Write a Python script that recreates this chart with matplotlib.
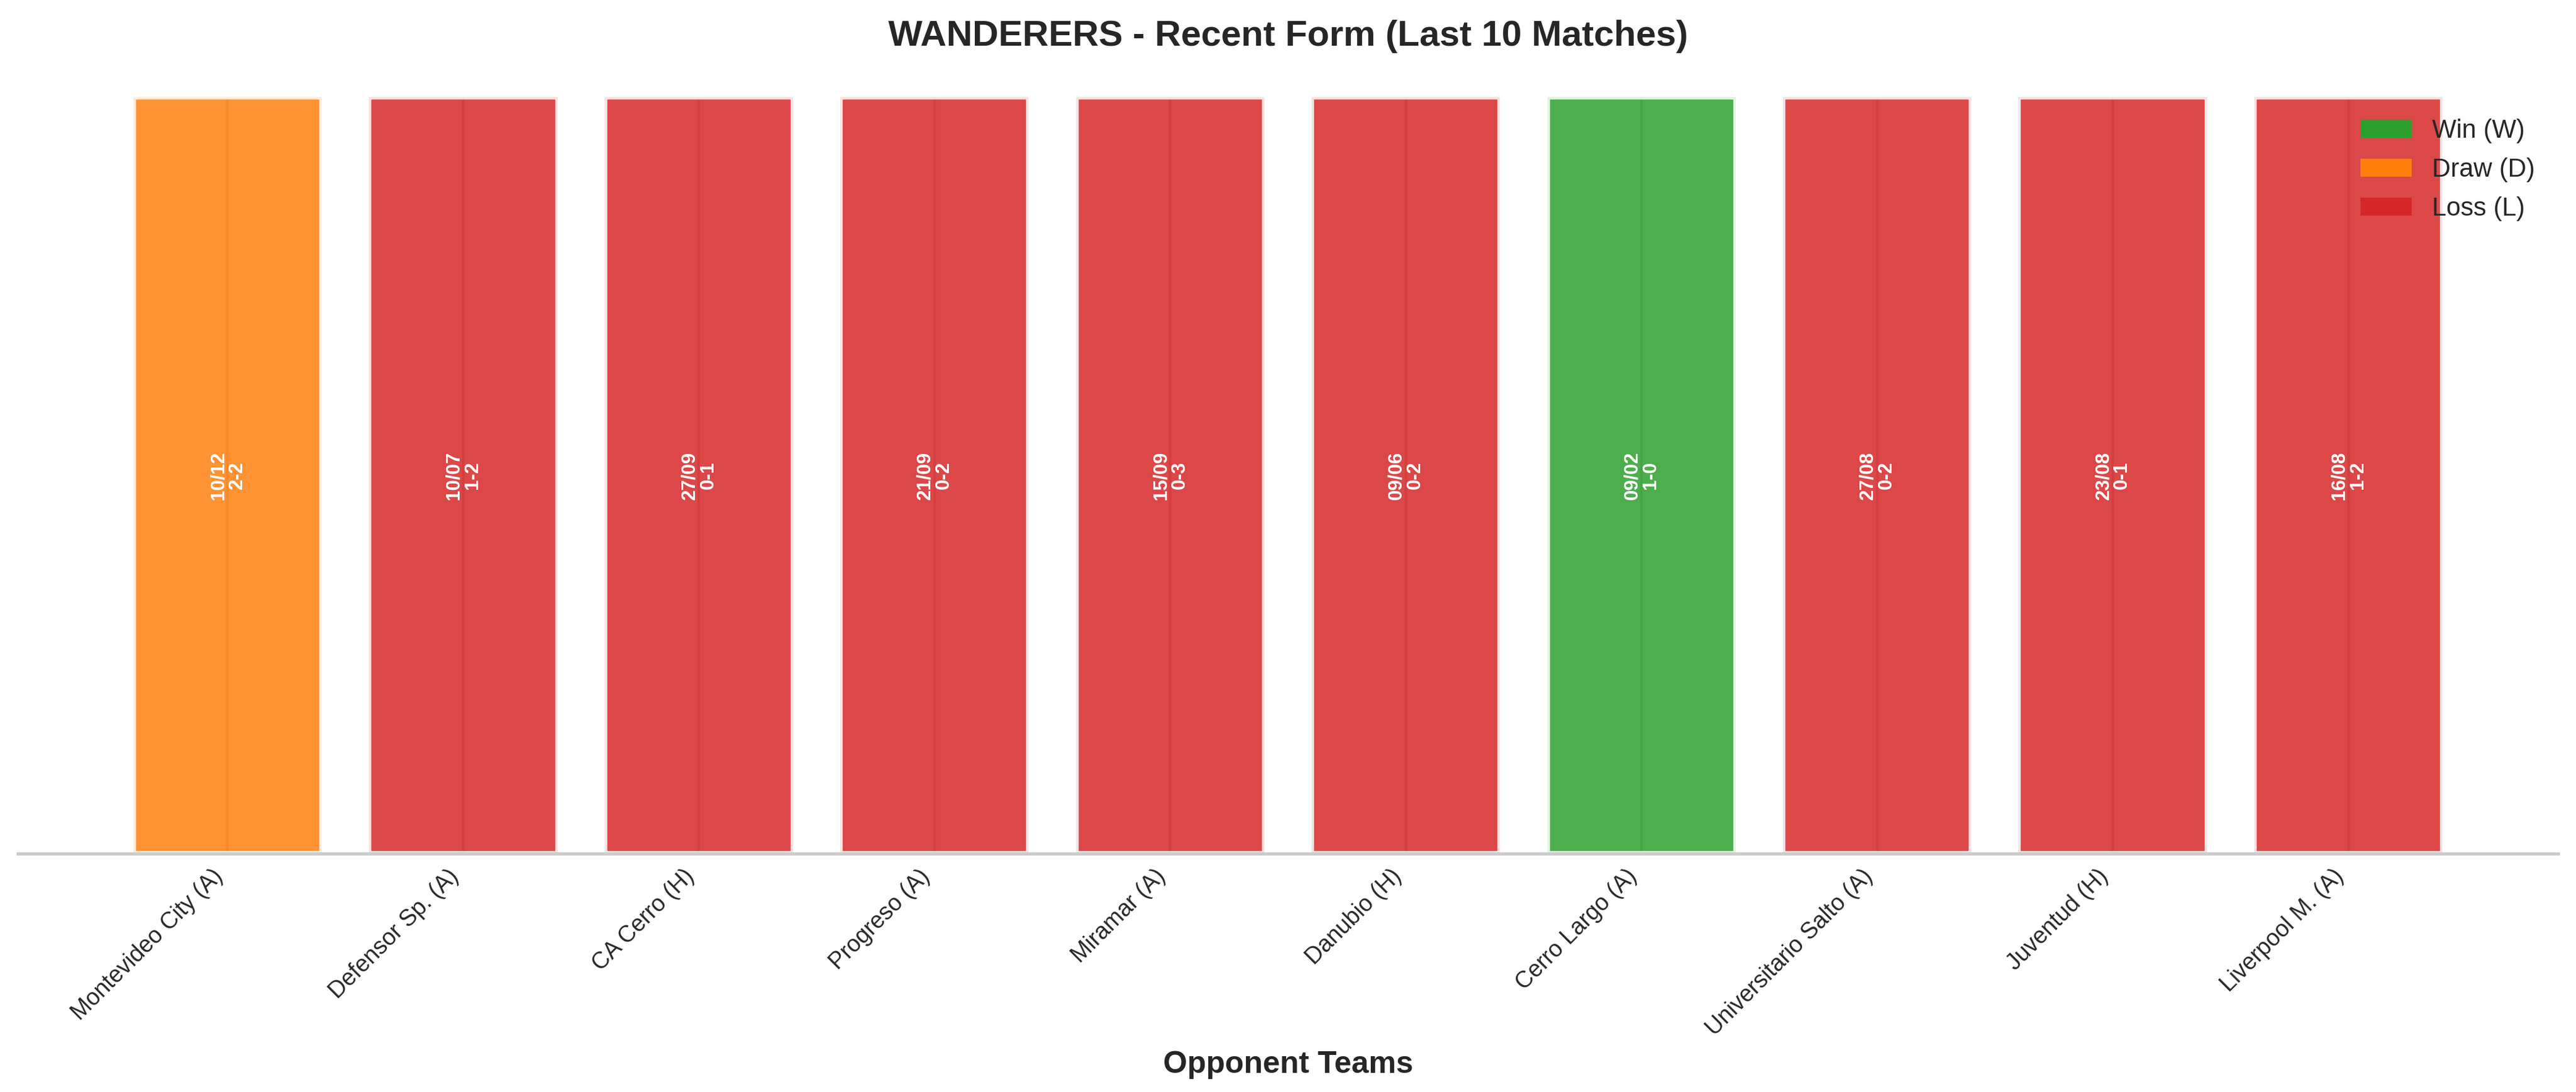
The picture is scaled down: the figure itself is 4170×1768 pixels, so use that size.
import matplotlib
matplotlib.use("Agg")
import matplotlib.pyplot as plt
import seaborn as sns
from matplotlib.patches import Patch

opponents = ["Montevideo City (A)", "Defensor Sp. (A)", "CA Cerro (H)", "Progreso (A)",
             "Miramar (A)", "Danubio (H)", "Cerro Largo (A)", "Universitario Salto (A)",
             "Juventud (H)", "Liverpool M. (A)"]
results = ["D", "L", "L", "L", "L", "L", "W", "L", "L", "L"]
dates = ["10/12", "10/07", "27/09", "21/09", "15/09", "09/06", "09/02", "27/08", "23/08", "16/08"]
scores = ["2-2", "1-2", "0-1", "0-2", "0-3", "0-2", "1-0", "0-2", "0-1", "1-2"]
heights = [1] * len(opponents)

result_colors = {"W": "#2ca02c", "D": "#ff7f0e", "L": "#d62728"}
legend_labels = [("W", "Win (W)"), ("D", "Draw (D)"), ("L", "Loss (L)")]

sns.set_theme(style="whitegrid")
plt.rcParams["font.family"] = ["Liberation Sans", "DejaVu Sans"]

fig = plt.figure(figsize=(13.9, 1768 / 300), dpi=300)
ax = fig.add_axes([29 / 4170, 1 - 1382 / 1768, (4141 - 29) / 4170, (1382 - 157) / 1768])

x = list(range(len(opponents)))
colors = [result_colors[r] for r in results]
ax.bar(x, heights, width=0.8, color=colors, alpha=0.85, edgecolor="white", linewidth=2)
ax.set_ylim(0, 1)

for xi, d, s in zip(x, dates, scores):
    ax.text(xi, 0.5, f"{d}\n{s}", ha="center", va="center", rotation=90,
            color="white", fontsize=7.5, fontweight="bold", linespacing=1.0)

ax.set_xticks(x)
ax.set_xticklabels(opponents, rotation=45, ha="right", fontsize=9)
ax.tick_params(axis="x", length=0, pad=4.5)
ax.set_yticks([])
ax.set_xlabel("Opponent Teams", fontsize=12, fontweight="bold", labelpad=4)
ax.set_title("WANDERERS - Recent Form (Last 10 Matches)", fontsize=14, fontweight="bold", pad=20)

for side in ["left", "right", "top"]:
    ax.spines[side].set_visible(False)
ax.spines["bottom"].set_color("#cccccc")

handles = [Patch(facecolor=result_colors[k], edgecolor="none", label=lab) for k, lab in legend_labels]
ax.legend(handles=handles, loc="upper right", bbox_to_anchor=(0.995, 0.985),
          borderaxespad=0, frameon=False, fontsize=10, labelspacing=0.55)

fig.savefig("out.png", dpi=300)
